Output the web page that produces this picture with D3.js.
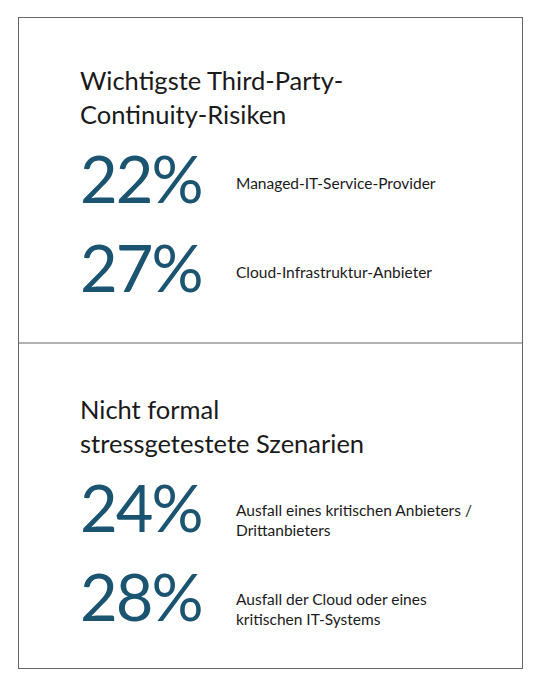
<!DOCTYPE html>
<html>
<head>
<meta charset="utf-8">
<script src="https://cdn.jsdelivr.net/npm/d3@7"></script>
<style>
	body { margin: 0; background: #fff; }
	text { font-family: Lato, "Open Sans", sans-serif; }
</style>
</head>
<body>
<svg id="chart" width="540" height="691"></svg>
<script>
	// data
	let sectionTitles = [
		['Wichtigste Third-Party-', 'Continuity-Risiken'],
		['Nicht formal', 'stressgetestete Szenarien'],
	];
	let sectionValues = [[22, 27], [24, 28]];
	let sectionLabels = [
		[['Managed-IT-Service-Provider'], ['Cloud-Infrastruktur-Anbieter']],
		[['Ausfall eines kritischen Anbieters /', 'Drittanbieters'], ['Ausfall der Cloud oder eines', 'kritischen IT-Systems']],
	];

	let svg = d3.select('#chart');
	let ink = '#1b5470';

	let y = d3.scaleBand().domain(d3.range(sectionTitles.length)).range([17, 668]);

	svg.append('rect')
		.attr('x', 18.5).attr('y', 17.5).attr('width', 504).attr('height', 651)
		.attr('fill', 'none').attr('stroke', '#666').attr('stroke-width', 1);

	svg.append('line')
		.attr('x1', 18).attr('x2', 523)
		.attr('y1', y(1) + 0.5).attr('y2', y(1) + 0.5)
		.attr('stroke', '#666');

	let section = svg.selectAll('.section').data(sectionTitles).enter().append('g')
		.attr('class', 'section')
		.attr('transform', function (d, i) { return 'translate(0,' + (y(i) + (i ? 3 : 0)) + ')'; });

	section.append('text')
		.attr('x', 80).attr('y', 73)
		.attr('font-size', 25.5).attr('fill', '#1a1a1a')
		.selectAll('tspan').data(function (d) { return d; }).enter().append('tspan')
		.attr('x', 80).attr('dy', function (d, i) { return i ? 34 : 0; })
		.text(function (d) { return d; });

	let row = section.selectAll('.row')
		.data(function (d, i) {
			return sectionValues[i].map(function (v, j) { return { value: v, label: sectionLabels[i][j] }; });
		})
		.enter().append('g')
		.attr('class', 'row')
		.attr('transform', function (d, j) { return 'translate(0,' + (186 + j * 89) + ')'; });

	row.append('text')
		.attr('x', 80).attr('y', 0)
		.attr('font-size', 65).attr('fill', ink).attr('letter-spacing', -2)
		.text(function (d) { return d.value + '%'; });

	row.append('text')
		.attr('font-size', 15.5).attr('fill', '#1a1a1a')
		.attr('y', function (d) { return d.label.length > 1 ? -16 : -14; })
		.selectAll('tspan').data(function (d) { return d.label; }).enter().append('tspan')
		.attr('x', 236).attr('dy', function (d, i) { return i ? 20 : 0; })
		.text(function (d) { return d; });
</script>
</body>
</html>
